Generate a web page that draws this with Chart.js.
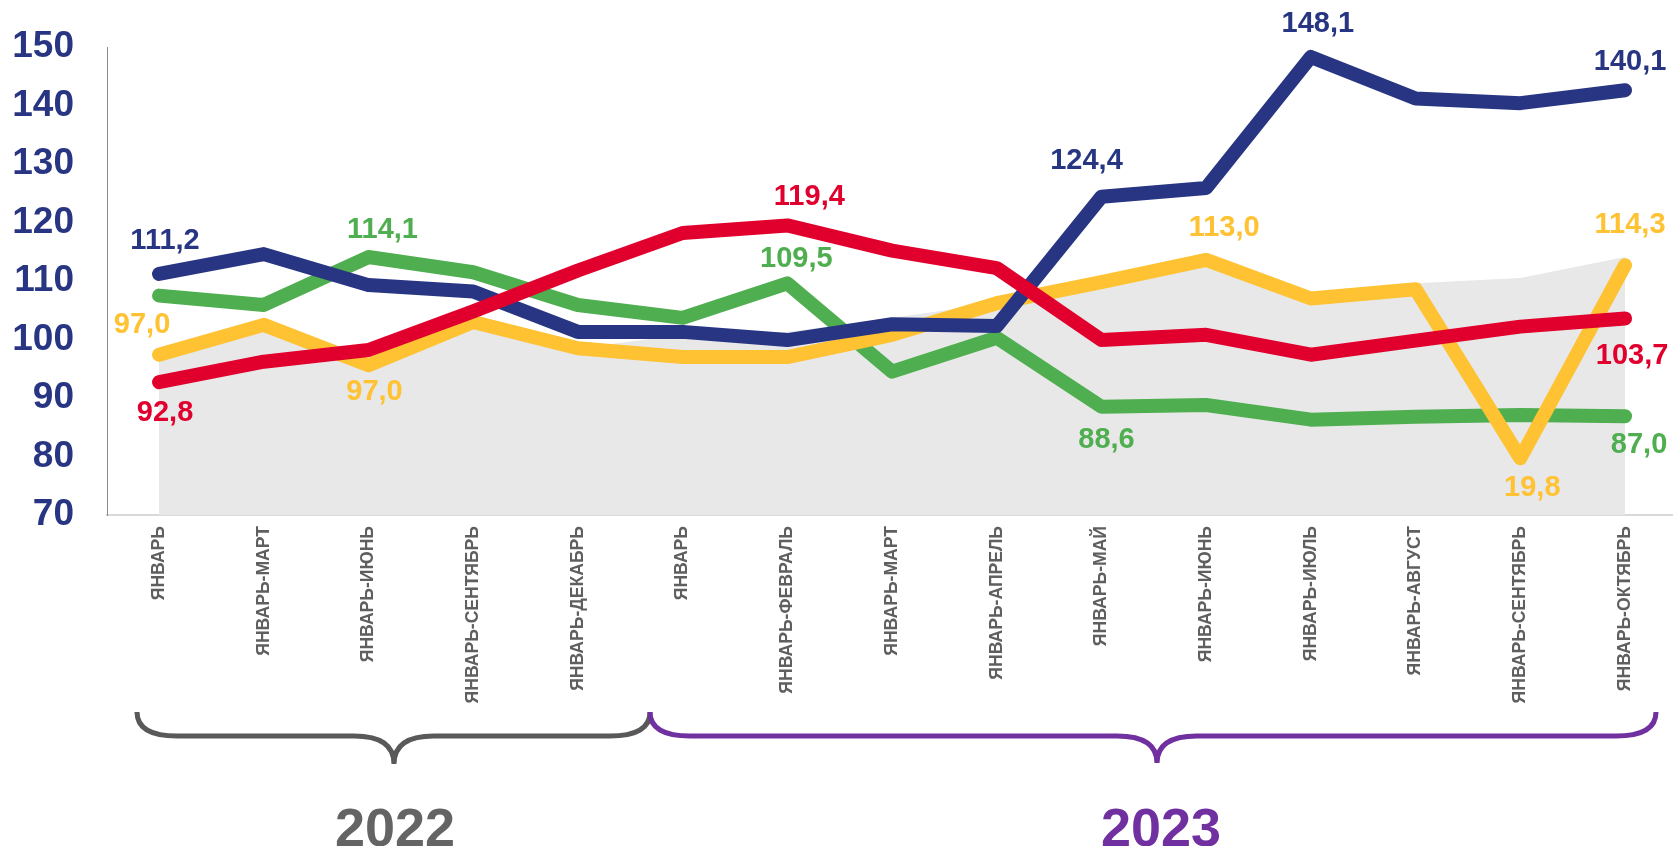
<!DOCTYPE html>
<html lang="ru">
<head>
<meta charset="utf-8">
<title>Индексы</title>
<script src="https://cdn.jsdelivr.net/npm/chart.js@4.4.1/dist/chart.umd.min.js"></script>
<style>
  html, body { margin: 0; padding: 0; background: #fff; }
  #wrap { width: 1673px; height: 846px; position: relative; }
</style>
</head>
<body>
<div id="wrap"><canvas id="chart" width="1673" height="846"></canvas></div>
<script>
// ---- данные ----
const categories = ["ЯНВАРЬ", "ЯНВАРЬ-МАРТ", "ЯНВАРЬ-ИЮНЬ", "ЯНВАРЬ-СЕНТЯБРЬ", "ЯНВАРЬ-ДЕКАБРЬ",
  "ЯНВАРЬ", "ЯНВАРЬ-ФЕВРАЛЬ", "ЯНВАРЬ-МАРТ", "ЯНВАРЬ-АПРЕЛЬ", "ЯНВАРЬ-МАЙ", "ЯНВАРЬ-ИЮНЬ",
  "ЯНВАРЬ-ИЮЛЬ", "ЯНВАРЬ-АВГУСТ", "ЯНВАРЬ-СЕНТЯБРЬ", "ЯНВАРЬ-ОКТЯБРЬ"];
const yTicks = [70, 80, 90, 100, 110, 120, 130, 140, 150];
const years = ["2022", "2023"];

const navyValues   = [111.2, 114.6, 109.3, 108.2, 101.3, 101.3, 99.9, 102.6, 102.3, 124.4, 125.9, 148.3, 141.2, 140.4, 142.6];
const redValues    = [92.7, 96.2, 98.2, 104.8, 111.8, 118.2, 119.5, 115.2, 112.2, 99.9, 100.8, 97.4, 99.8, 102.2, 103.6];
const greenValues  = [107.5, 105.9, 114.1, 111.5, 105.9, 103.7, 109.6, 94.5, 100.3, 88.5, 88.8, 86.3, 86.8, 87.1, 86.9];
const yellowValues = [97.4, 102.5, 95.6, 103.0, 98.5, 97.0, 97.0, 100.8, 106.2, 109.8, 113.6, 107.0, 108.6, 79.7, 112.7];
const areaValues   = [97.4, 102.5, 95.6, 103.0, 98.5, 100.8, 101.3, 103.7, 106.2, 109.8, 113.6, 107.0, 109.6, 110.5, 114.1];

// подписи значений (как на исходном слайде)
const navyLabels   = ["111,2", null, null, null, null, null, null, null, null, "124,4", null, "148,1", null, null, "140,1"];
const redLabels    = ["92,8", null, null, null, null, null, "119,4", null, null, null, null, null, null, null, "103,7"];
const greenLabels  = [null, null, "114,1", null, null, null, "109,5", null, null, "88,6", null, null, null, null, "87,0"];
const yellowLabels = ["97,0", null, "97,0", null, null, null, null, null, null, null, "113,0", null, null, "19,8", "114,3"];

// ---- оформление ----
const NAVY = "#283583", RED = "#e1002d", GREEN = "#4fae50", YELLOW = "#fec232", AREA = "#e8e8e8";
const FONT = "'Liberation Sans', Arial, sans-serif";
Chart.defaults.font.family = FONT;

// смещения подписей относительно точек
const labelOffsets = {
  navy:   {0: [6, -33], 9: [-15, -36], 11: [7, -33], 14: [5, -28]},
  red:    {0: [6, 31], 6: [22, -28], 14: [7, 38]},
  green:  {2: [14, -27], 6: [9, -24], 9: [5, 33], 14: [14, 29]},
  yellow: {0: [-17, -30], 2: [6, 27], 10: [18, -32], 13: [12, 30], 14: [5, -40]}
};

const toPoints = (arr) => arr.map((v, i) => ({ x: i, y: v }));

function lineSet(key, data, color, labels, order) {
  return {
    key: key, data: toPoints(data), labelsText: labels, order: order,
    borderColor: color, backgroundColor: color, borderWidth: 14,
    borderCapStyle: "round", borderJoinStyle: "round",
    pointRadius: 0, pointHoverRadius: 0, tension: 0, fill: false
  };
}

const valueLabels = {
  id: "valueLabels",
  afterDatasetsDraw(chart) {
    const ctx = chart.ctx;
    ctx.save();
    ctx.font = "bold 29px " + FONT;
    ctx.textAlign = "center";
    ctx.textBaseline = "middle";
    chart.data.datasets.forEach((ds, i) => {
      if (!ds.labelsText) return;
      const meta = chart.getDatasetMeta(i);
      ds.labelsText.forEach((txt, j) => {
        if (!txt) return;
        const pt = meta.data[j];
        const off = labelOffsets[ds.key][j] || [0, -30];
        ctx.fillStyle = ds.borderColor;
        ctx.fillText(txt, pt.x + off[0], pt.y + off[1]);
      });
    });
    ctx.restore();
  }
};

function brace(ctx, x1, x2, cx, yTop, yMid, yBot, color) {
  ctx.beginPath();
  ctx.moveTo(x1, yTop);
  ctx.quadraticCurveTo(x1, yMid, x1 + 40, yMid);
  ctx.lineTo(cx - 40, yMid);
  ctx.quadraticCurveTo(cx, yMid, cx, yBot);
  ctx.quadraticCurveTo(cx, yMid, cx + 40, yMid);
  ctx.lineTo(x2 - 40, yMid);
  ctx.quadraticCurveTo(x2, yMid, x2, yTop);
  ctx.strokeStyle = color;
  ctx.lineWidth = 5;
  ctx.lineCap = "butt";
  ctx.stroke();
}

const yearBraces = {
  id: "yearBraces",
  afterDraw(chart) {
    const ctx = chart.ctx;
    ctx.save();
    brace(ctx, 137, 650, 394, 712, 736, 764, "#595959");
    brace(ctx, 650, 1656, 1157, 712, 736, 763, "#7030a0");
    ctx.font = "bold 54px " + FONT;
    ctx.textAlign = "center";
    ctx.textBaseline = "middle";
    ctx.fillStyle = "#646464";
    ctx.fillText(years[0], 395, 831);
    ctx.fillStyle = "#7030a0";
    ctx.fillText(years[1], 1161, 831);
    ctx.restore();
  }
};

new Chart(document.getElementById("chart"), {
  type: "line",
  data: {
    datasets: [
      {
        data: toPoints(areaValues), order: 10, fill: "start", backgroundColor: AREA,
        borderWidth: 0, pointRadius: 0, pointHoverRadius: 0, tension: 0
      },
      lineSet("green", greenValues, GREEN, greenLabels, 4),
      lineSet("navy", navyValues, NAVY, navyLabels, 2),
      lineSet("red", redValues, RED, redLabels, 1),
      lineSet("yellow", yellowValues, YELLOW, yellowLabels, 3)
    ]
  },
  options: {
    responsive: false,
    animation: false,
    events: [],
    layout: { padding: { top: 47, left: 0, right: 0, bottom: 0 } },
    plugins: { legend: { display: false }, tooltip: { enabled: false } },
    scales: {
      x: {
        type: "linear",
        min: -0.497, max: 14.458,
        afterBuildTicks: (s) => { s.ticks = categories.map((c, i) => ({ value: i })); },
        grid: { drawOnChartArea: false, drawTicks: false },
        border: { display: true, color: "#d9d9d9", width: 2 },
        ticks: {
          autoSkip: false, maxRotation: 90, minRotation: 90, padding: 11,
          color: "#5f5f5f", font: { size: 17.6, weight: "bold" },
          callback: (v) => categories[v]
        },
        afterFit: (s) => { s.height = 331; }
      },
      y: {
        min: yTicks[0], max: yTicks[yTicks.length - 1],
        afterBuildTicks: (s) => { s.ticks = yTicks.map(v => ({ value: v })); },
        grid: { drawOnChartArea: false, drawTicks: false },
        border: { display: true, color: "#8c8c8c", width: 1 },
        ticks: { padding: 33, color: NAVY, font: { size: 37, weight: "bold" } },
        afterFit: (s) => { s.width = 107; s.paddingTop = 0; s.paddingBottom = 0; }
      }
    }
  },
  plugins: [valueLabels, yearBraces]
});
</script>
</body>
</html>
